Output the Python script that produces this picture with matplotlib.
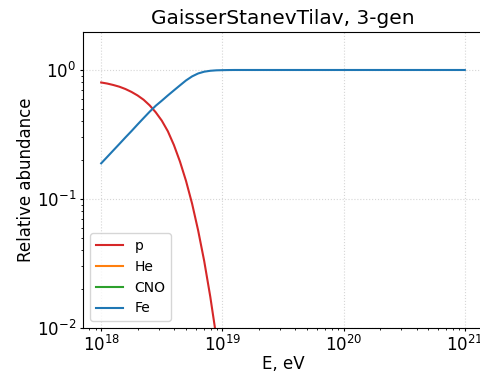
import numpy as np
import matplotlib
matplotlib.use("Agg")
import matplotlib.pyplot as plt

log_energy = [18.00, 18.05, 18.10, 18.15, 18.20, 18.25, 18.30, 18.35, 18.40, 18.45,
              18.50, 18.55, 18.60, 18.65, 18.70, 18.75, 18.80, 18.85, 18.90, 18.95,
              19.00, 19.05, 19.10, 19.20, 19.50, 20.00, 20.50, 21.00]
p_frac = [0.800, 0.785, 0.765, 0.742, 0.712, 0.676, 0.635, 0.588, 0.532, 0.470,
          0.405, 0.335, 0.262, 0.195, 0.138, 0.092, 0.057, 0.033, 0.0175, 0.0085,
          0.0038, 0, 0, 0, 0, 0, 0, 0]
he_frac = [0] * len(log_energy)
cno_frac = [0] * len(log_energy)
fe_frac = [0.189, 0.212, 0.238, 0.267, 0.300, 0.336, 0.378, 0.424, 0.475, 0.528,
           0.578, 0.635, 0.695, 0.760, 0.830, 0.892, 0.940, 0.970, 0.986, 0.994,
           0.997, 0.999, 1.0, 1.0, 1.0, 1.0, 1.0, 1.0]

series = [("p", p_frac, "C3"), ("He", he_frac, "C1"), ("CNO", cno_frac, "C2"), ("Fe", fe_frac, "C0")]
energy = 10.0 ** np.array(log_energy)

fig = plt.figure(figsize=(4.81, 3.75), dpi=100)
ax = fig.add_axes([83/481, 1-328/375, 400/481, (328-32)/375])
for name, vals, col in series:
    ax.plot(energy, vals, color=col, lw=1.5, label=name)
ax.set_xscale("log")
ax.set_yscale("log", nonpositive="mask")
ax.set_ylim(1e-2, 1.97)
ax.grid(True, which="major", ls=":", color="#bbbbbb", alpha=0.6)
ax.set_xlabel("E, eV", fontsize=12, labelpad=0)
ax.set_ylabel("Relative abundance", fontsize=12, labelpad=1)
ax.set_title("GaisserStanevTilav, 3-gen", fontsize=14.5)
ax.tick_params(labelsize=12, length=2.5, pad=2.5)
ax.tick_params(which="minor", length=1.5)
ax.legend(loc="lower left", fontsize=10)
fig.savefig("out.png", dpi=100)
